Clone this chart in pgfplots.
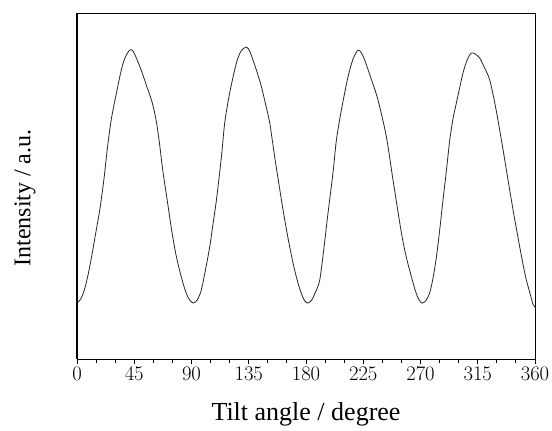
\documentclass[border=0pt]{standalone}
\usepackage{fontspec}
\setmainfont{Liberation Serif}
\usepackage{pgfplots}
\pgfplotsset{compat=1.18}
\usetikzlibrary{calc}

% intensity (arbitrary units)
\pgfplotstableread{
deg I
0 56
3 60
6 70
9 86
12 106
15 128
18 150
21 178
24 212
27 240
31 266
35 290
38 302
41.5 309
44 308
47 300
51 287
55 272
59 257
62 240
64.5 219
67.5 188
71 158
74.5 128
78 103
82 82
85.5 67
88.5 59
91.5 56
94.5 59
97.5 68
100.5 86
104.3 112
107 136
109.6 159
113.5 202
116.1 236
120 266
125.3 296
129 308
133.2 312
136 307
138.3 299
141.5 287
145 272
148 256
151.5 236
155.4 202
160.7 159
164 134
167.2 112
170.5 92
173.7 76
176.5 65
179 58
181.5 56
184.5 59
187.5 67
190.8 79
194 110
197.3 146
201.2 186
203.9 219
207.8 249
213 282
217 300
220.9 309
223.5 306
226.1 299
231 281
236.6 259
243.2 222
248.4 179
255 126
259 101
262.9 82
266 68
268.5 60
271 56
274 58
277.2 66
280 82
282.5 102
285 128
287.7 159
290.5 190
293 219
295.5 240
298.2 256
303.4 286
307 300
310 306
313 305
316.5 301
320 292
324.4 279
329 252
333.6 219
337 193
340.1 169
344 140
348 112
351 92
353.2 79
356 66
358.4 55
360 52
}\datatable

\begin{document}
\begin{tikzpicture}
\begin{axis}[
  scale only axis,
  width=458bp, height=346bp,
  xmin=0, xmax=360, ymin=0, ymax=346,
  xtick={0,45,...,360},
  minor x tick num=2,
  ytick=\empty,
  xtick pos=bottom,
  tick align=outside,
  major tick length=5bp, minor tick length=3.5bp,
  every tick/.style={black, line width=1bp},
  axis line style={line width=0.8bp},
  tick label style={font=\fontsize{19bp}{22bp}\selectfont},
  xlabel style={font=\fontsize{26bp}{30bp}\selectfont, yshift=-15bp},
  ylabel style={font=\fontsize{24bp}{28bp}\selectfont, yshift=33bp, xshift=-12bp},
  xlabel={Tilt angle / degree},
  ylabel={Intensity / a.u.},
  clip=false,
]
\addplot[black!85, line width=0.8bp, smooth, tension=0.5] table[x=deg, y=I] {\datatable};
\coordinate (ll) at (rel axis cs:0,0);
\coordinate (ul) at (rel axis cs:0,1);
\coordinate (ur) at (rel axis cs:1,1);
\end{axis}
\draw[line width=1.6bp] (ll) -- (ul);
\pgfresetboundingbox
\path ($(ll)+(-77bp,-72bp)$) rectangle ($(ur)+(17bp,13bp)$);
\end{tikzpicture}
\end{document}
